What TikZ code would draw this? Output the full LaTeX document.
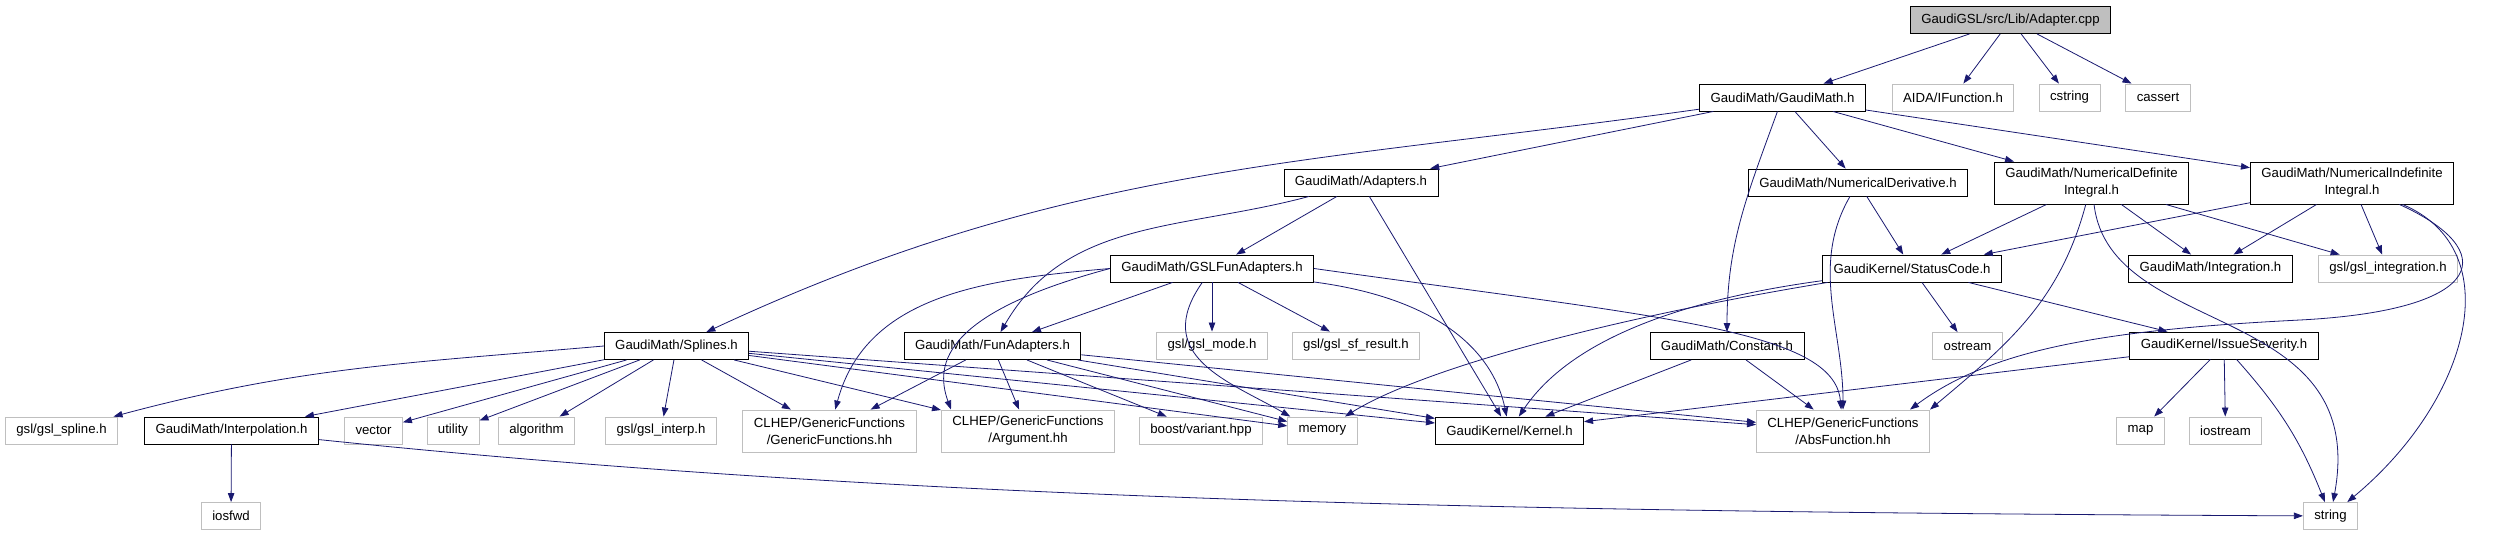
\documentclass[tikz,border=0pt]{standalone}
\usepackage{fontspec}
\setmainfont{Liberation Sans}
\usetikzlibrary{arrows.meta}

\definecolor{edgeblue}{HTML}{191970}
\definecolor{boxgray}{HTML}{BFBFBF}

\tikzset{
  file/.style={draw=black, line width=0.9pt, fill=white, inner xsep=11pt, inner ysep=0pt,
    minimum height=27pt, font=\fontsize{13.2}{17}\selectfont},
  sysfile/.style={file, draw=boxgray},
  rootfile/.style={file, fill=boxgray},
  twoline/.style={align=center, minimum height=42pt},
  dep/.style={draw=edgeblue, line width=0.8pt, -{Triangle[length=9pt,width=6.5pt]}}
}

\begin{document}
\begin{tikzpicture}[x=1pt, y=1pt]
        \useasboundingbox (0,-536) rectangle (2502,0);
        % top rows
        \node[rootfile] (root) at (2010.5,-20) {GaudiGSL/src/Lib/Adapter.cpp};
        \node[file] (gmath) at (1782.5,-97.5) {GaudiMath/GaudiMath.h};
        \node[sysfile] (aida) at (1953,-97.5) {AIDA/IFunction.h};
        \node[sysfile] (cstring) at (2069.5,-97.5) {cstring};
        \node[sysfile] (cassert) at (2158,-97.5) {cassert};
        \node[file] (adapters) at (1361,-182.5) {GaudiMath/Adapters.h};
        \node[file] (nderiv) at (1858,-182.5) {GaudiMath/NumericalDerivative.h};
        \node[file, twoline] (ndef) at (2091.5,-183) {GaudiMath/NumericalDefinite\\Integral.h};
        \node[file, twoline] (nindef) at (2352,-183) {GaudiMath/NumericalIndefinite\\Integral.h};
        \node[file] (gslfun) at (1212,-268.5) {GaudiMath/GSLFunAdapters.h};
        \node[file] (status) at (1912,-268.5) {GaudiKernel/StatusCode.h};
        \node[file] (integ) at (2210.5,-268.5) {GaudiMath/Integration.h};
        \node[sysfile] (gslint) at (2388,-268.5) {gsl/gsl\_integration.h};
        % middle row
        \node[file] (splines) at (676.5,-346) {GaudiMath/Splines.h};
        \node[file] (funad) at (992.5,-346) {GaudiMath/FunAdapters.h};
        \node[sysfile] (gslmode) at (1212,-345.5) {gsl/gsl\_mode.h};
        \node[sysfile] (gslsf) at (1356,-345.5) {gsl/gsl\_sf\_result.h};
        \node[file] (constant) at (1727,-346) {GaudiMath/Constant.h};
        \node[sysfile] (ostream) at (1967.5,-346) {ostream};
        \node[file] (issue) at (2224,-345.5) {GaudiKernel/IssueSeverity.h};
        % bottom rows
        \node[sysfile] (gslspline) at (61.5,-430.5) {gsl/gsl\_spline.h};
        \node[file] (interp) at (231.5,-430.5) {GaudiMath/Interpolation.h};
        \node[sysfile] (vector) at (373.5,-430.5) {vector};
        \node[sysfile] (utility) at (453,-430.5) {utility};
        \node[sysfile] (algorithm) at (536.5,-430.5) {algorithm};
        \node[sysfile] (gslinterp) at (661,-430.5) {gsl/gsl\_interp.h};
        \node[sysfile, twoline] (generic) at (829.5,-431) {CLHEP/GenericFunctions\\/GenericFunctions.hh};
        \node[sysfile, twoline] (argument) at (1028,-431) {CLHEP/GenericFunctions\\/Argument.hh};
        \node[sysfile] (boost) at (1201,-430.5) {boost/variant.hpp};
        \node[sysfile] (memory) at (1322.5,-430.5) {memory};
        \node[file] (kernel) at (1509.5,-430.5) {GaudiKernel/Kernel.h};
        \node[sysfile, twoline] (absfun) at (1843,-431) {CLHEP/GenericFunctions\\/AbsFunction.hh};
        \node[sysfile] (map) at (2140.5,-430.5) {map};
        \node[sysfile] (iostream) at (2225.5,-430.5) {iostream};
        \node[sysfile] (iosfwd) at (231,-516) {iosfwd};
        \node[sysfile] (string) at (2330.5,-516) {string};

        % straight includes
        \foreach \a/\b in {root/gmath, root/aida, root/cstring, root/cassert,
            gmath/adapters, gmath/nderiv, gmath/ndef, gmath/nindef,
            adapters/gslfun, adapters/kernel,
            gslfun/funad, gslfun/gslmode, gslfun/gslsf,
            nderiv/status, ndef/status, ndef/integ, ndef/gslint,
            nindef/status, nindef/integ, nindef/gslint,
            status/ostream, status/issue,
            constant/kernel, constant/absfun,
            issue/map, issue/iostream, issue/kernel,
            splines/interp, splines/vector, splines/utility, splines/algorithm,
            splines/gslinterp, splines/generic, splines/argument,
            splines/memory, splines/kernel, splines/absfun,
            funad/generic, funad/argument, funad/boost,
            funad/memory, funad/kernel, funad/absfun,
            interp/iosfwd}
            \draw[dep] (\a) -- (\b);

        % curved includes
        \draw[dep] (gmath) to[out=188, in=25] (splines);
        \draw[dep] (gmath) to[out=-110, in=90] (constant);
        \draw[dep] (adapters) to[out=195, in=60] (funad);
        \draw[dep] (gslfun) .. controls (1450,-300) and (1495,-360) .. (kernel);
        \draw[dep] (gslfun.east) to[out=-8, in=95, out distance=350pt, in distance=80pt] (absfun);
        \draw[dep] (gslfun.west) to[out=185, in=75] (generic);
        \draw[dep] (gslfun.west) to[out=195, in=110, out distance=170pt, in distance=50pt] ([xshift=10pt]argument.north west);
        \draw[dep] (gslfun) to[out=-125, in=150, out distance=90pt, in distance=70pt] ([xshift=3pt]memory.north west);
        \draw[dep] (splines.west) to[out=185, in=15] (gslspline);
        \draw[dep] (interp) .. controls (900,-500) and (1500,-512) .. (string);
        \draw[dep] (nderiv) to[out=-120, in=90, out distance=80pt, in distance=80pt] (absfun);
        \draw[dep] (ndef) to[out=-105, in=40] (absfun.north east);
        \draw[dep] (ndef) .. controls (2110,-340) and (2370,-300) .. (string);
        \draw[dep] (nindef) .. controls (2510,-250) and (2470,-400) .. (string);
        \draw[dep] (nindef) .. controls (2500,-250) and (2490,-310) .. (2300,-320)
            .. controls (2100,-330) and (1990,-350) .. ([xshift=-20pt]absfun.north east);
        \draw[dep] (status) .. controls (1680,-300) and (1570,-340) .. (kernel);
        \draw[dep] (status) .. controls (1600,-320) and (1420,-370) .. (memory);
        \draw[dep] (issue) to[bend left=10] (string);
\end{tikzpicture}
\end{document}
